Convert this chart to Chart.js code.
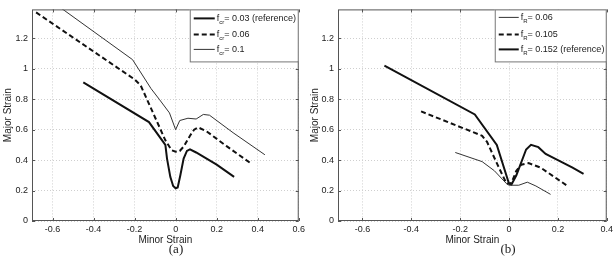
<!DOCTYPE html>
<html>
<head>
<meta charset="utf-8">
<script src="https://cdn.jsdelivr.net/npm/chart.js@4.4.1/dist/chart.umd.min.js"></script>
<style>
  body { margin: 0; background: #fff; width: 616px; height: 267px; position: relative; overflow: hidden; }
  .wrap { position: absolute; top: 0; }
  .cap { position: absolute; top: 241px; font: 13px "Liberation Serif", serif; color: #222; transform: translateX(-50%); }
</style>
</head>
<body>
<div class="wrap" style="left:0"><canvas id="chartA" width="308" height="246"></canvas></div>
<div class="wrap" style="left:308px"><canvas id="chartB" width="308" height="246"></canvas></div>
<div class="cap" style="left:176px">(a)</div>
<div class="cap" style="left:508px">(b)</div>

<script>
// (a) effect of f_cr
const aRefX = [-0.45, -0.13, -0.05, -0.042, -0.026, -0.012, 0, 0.01, 0.023, 0.039, 0.055, 0.07, 0.1, 0.2, 0.285];
const aRefY = [0.91, 0.65, 0.5, 0.41, 0.29, 0.23, 0.215, 0.22, 0.3, 0.41, 0.46, 0.47, 0.45, 0.37, 0.29];
const aMidX = [-0.68, -0.2, -0.17, -0.1, -0.05, -0.02, 0, 0.02, 0.04, 0.07, 0.09, 0.11, 0.15, 0.25, 0.37];
const aMidY = [1.37, 0.93, 0.89, 0.68, 0.53, 0.465, 0.455, 0.46, 0.49, 0.56, 0.6, 0.615, 0.59, 0.49, 0.375];
const aHighX = [-0.57, -0.21, -0.12, -0.08, -0.03, 0, 0.02, 0.06, 0.1, 0.135, 0.165, 0.28, 0.435];
const aHighY = [1.41, 1.06, 0.87, 0.8, 0.71, 0.6, 0.66, 0.675, 0.67, 0.7, 0.695, 0.58, 0.435];
const aLabels = ["0.03 (reference)", "0.06", "0.1"];

// (b) effect of f_R
const bLowX = [-0.22, -0.11, -0.06, -0.01, 0, 0.04, 0.075, 0.11, 0.17];
const bLowY = [0.45, 0.39, 0.33, 0.245, 0.235, 0.235, 0.255, 0.23, 0.175];
const bMidX = [-0.36, -0.11, -0.09, -0.05, -0.01, 0.01, 0.03, 0.05, 0.08, 0.13, 0.235];
const bMidY = [0.72, 0.56, 0.52, 0.38, 0.245, 0.25, 0.33, 0.37, 0.38, 0.35, 0.235];
const bRefX = [-0.51, -0.14, -0.05, 0, 0.01, 0.03, 0.07, 0.09, 0.12, 0.15, 0.2, 0.26, 0.305];
const bRefY = [1.02, 0.7, 0.5, 0.245, 0.24, 0.3, 0.47, 0.5, 0.485, 0.44, 0.4, 0.35, 0.31];
const bLabels = ["0.06", "0.105", "0.152 (reference)"];

const aXTicks = [-0.6, -0.4, -0.2, 0, 0.2, 0.4, 0.6];
const bXTicks = [-0.6, -0.4, -0.2, 0, 0.2, 0.4];
const yTicks = [0, 0.2, 0.4, 0.6, 0.8, 1, 1.2];

const zip = (xs, ys) => xs.map((x, i) => ({ x: x, y: ys[i] }));
const fmt = (v) => String(Number(v.toFixed(1)));

// matlab-ish box with inward ticks
const boxPlugin = {
  id: "box",
  afterDraw(chart) {
    const c = chart.ctx, a = chart.chartArea;
    c.save();
    c.strokeStyle = "#555";
    c.lineWidth = 1;
    c.strokeRect(a.left + 0.5, a.top + 0.5, a.right - a.left - 1, a.bottom - a.top - 1);
    c.beginPath();
    chart.scales.x.ticks.forEach((t) => {
      const px = Math.round(chart.scales.x.getPixelForValue(t.value)) + 0.5;
      c.moveTo(px, a.bottom); c.lineTo(px, a.bottom - 3);
      c.moveTo(px, a.top); c.lineTo(px, a.top + 3);
    });
    chart.scales.y.ticks.forEach((t) => {
      const py = Math.round(chart.scales.y.getPixelForValue(t.value)) + 0.5;
      c.moveTo(a.left, py); c.lineTo(a.left + 3, py);
      c.moveTo(a.right, py); c.lineTo(a.right - 3, py);
    });
    c.stroke();
    c.restore();
  }
};

// legend with subscript text
const legendPlugin = {
  id: "subLegend",
  afterDraw(chart, args, opts) {
    const c = chart.ctx, a = chart.chartArea;
    const x0 = a.right - opts.width, y0 = a.top;
    c.save();
    c.fillStyle = "#fff";
    c.fillRect(x0, y0, opts.width, 52);
    c.strokeStyle = "#777";
    c.lineWidth = 1;
    c.strokeRect(x0 + 0.5, y0 + 0.5, opts.width - 1, 52);
    chart.data.datasets.forEach((ds, i) => {
      const y = y0 + opts.rows[i];
      c.beginPath();
      c.strokeStyle = ds.borderColor;
      c.lineWidth = ds.borderWidth;
      c.setLineDash(ds.borderDash || []);
      c.moveTo(x0 + 4, y); c.lineTo(x0 + 4 + opts.lineLen, y);
      c.stroke();
      c.setLineDash([]);
      c.fillStyle = "#222";
      c.textBaseline = "middle";
      let tx = x0 + opts.lineLen + 6;
      c.font = "9px 'Liberation Sans', Arial, sans-serif";
      c.fillText("f", tx, y);
      tx += c.measureText("f").width;
      c.font = "6px 'Liberation Sans', Arial, sans-serif";
      c.fillText(opts.sub, tx, y + 4);
      tx += c.measureText(opts.sub).width;
      c.font = "9px 'Liberation Sans', Arial, sans-serif";
      c.fillText("= " + ds.label, tx, y);
    });
    c.restore();
  }
};

function makeOptions(xMin, xMax, xTicks, yWidth, yTitlePad, rightPad, legend) {
  const tickFont = { family: "'Liberation Sans', Arial, sans-serif", size: 9 };
  const titleFont = { family: "'Liberation Sans', Arial, sans-serif", size: 10 };
  return {
    responsive: false,
    animation: false,
    layout: { padding: { top: 3, right: rightPad, left: 0, bottom: 0 } },
    elements: { point: { radius: 0 }, line: { tension: 0 } },
    plugins: { legend: { display: false }, tooltip: { enabled: false }, subLegend: legend },
    scales: {
      x: {
        type: "linear",
        min: xMin,
        max: xMax,
        afterBuildTicks: (s) => { s.ticks = xTicks.map((v) => ({ value: v })); },
        afterFit: (s) => { s.height = 25; },
        grid: { color: "#cfcfcf", drawTicks: false },
        border: { display: false, dash: [1, 2] },
        ticks: { padding: 3, font: tickFont, color: "#222", callback: fmt, maxRotation: 0 },
        title: { display: true, text: "Minor Strain", font: titleFont, color: "#222", padding: { top: 0, bottom: 0 } }
      },
      y: {
        min: 0,
        max: 1.39,
        afterBuildTicks: (s) => { s.ticks = yTicks.map((v) => ({ value: v })); },
        afterFit: (s) => { s.width = yWidth; },
        grid: { color: "#cfcfcf", drawTicks: false },
        border: { display: false, dash: [1, 2] },
        ticks: { padding: 4, font: tickFont, color: "#222", callback: fmt },
        title: { display: true, text: "Major Strain", font: titleFont, color: "#222", padding: { top: yTitlePad, bottom: 0 } }
      }
    }
  };
}

new Chart(document.getElementById("chartA"), {
  type: "line",
  data: {
    datasets: [
      { label: aLabels[0], data: zip(aRefX, aRefY), borderColor: "#111", borderWidth: 2 },
      { label: aLabels[1], data: zip(aMidX, aMidY), borderColor: "#111", borderWidth: 2, borderDash: [5, 3] },
      { label: aLabels[2], data: zip(aHighX, aHighY), borderColor: "#333", borderWidth: 1 }
    ]
  },
  options: makeOptions(-0.7, 0.6, aXTicks, 32, 2, 7, { width: 109, sub: "cr", lineLen: 21, rows: [9, 25, 40] }),
  plugins: [boxPlugin, legendPlugin]
});

new Chart(document.getElementById("chartB"), {
  type: "line",
  data: {
    datasets: [
      { label: bLabels[0], data: zip(bLowX, bLowY), borderColor: "#333", borderWidth: 1 },
      { label: bLabels[1], data: zip(bMidX, bMidY), borderColor: "#111", borderWidth: 2, borderDash: [5, 3] },
      { label: bLabels[2], data: zip(bRefX, bRefY), borderColor: "#111", borderWidth: 2 }
    ]
  },
  options: makeOptions(-0.7, 0.4, bXTicks, 30, 1, 9, { width: 112, sub: "R", lineLen: 20, rows: [8, 25, 40] }),
  plugins: [boxPlugin, legendPlugin]
});
</script>
</body>
</html>
